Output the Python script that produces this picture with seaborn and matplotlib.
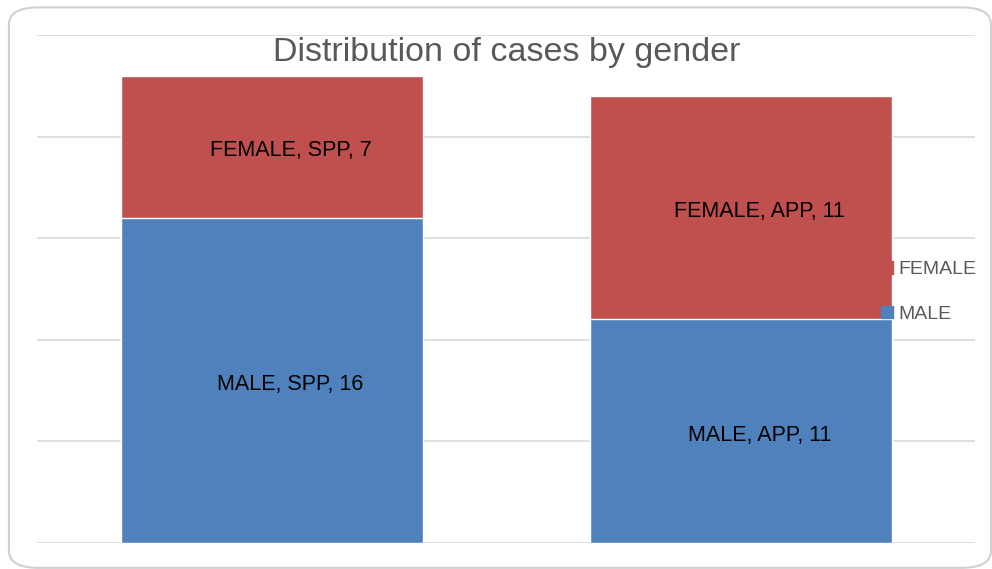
import matplotlib.pyplot as plt
import seaborn as sns
import pandas as pd
from matplotlib.patches import FancyBboxPatch, Patch

groups = ["SPP", "APP"]
male = [16, 11]
female = [7, 11]

BLUE = "#4F81BD"
RED = "#C0504D"
GRAY = "#595959"

sns.set_style("white")
plt.rcParams["font.family"] = ["Liberation Sans", "DejaVu Sans"]

df = pd.DataFrame({"group": groups, "male": male, "female": female})
df["total"] = df["male"] + df["female"]

fig = plt.figure(figsize=(9.92, 5.69), dpi=100)
ax = fig.add_axes([0.0373, 0.0457, 0.946, 0.8928])

sns.barplot(data=df, x="group", y="total", color=RED, width=0.644,
            saturation=1, ax=ax, zorder=2)
sns.barplot(data=df, x="group", y="male", color=BLUE, width=0.644,
            saturation=1, ax=ax, zorder=3)

ax.set_xlim(-0.5, 1.5)
ax.set_ylim(0, 25)
ax.set_yticks(range(0, 26, 5))
ax.yaxis.grid(True, color="#D9D9D9", linewidth=1.2, zorder=0)
ax.set_axisbelow(True)
for s in ax.spines.values():
    s.set_visible(False)
ax.set_xticks([])
ax.tick_params(left=False, labelleft=False)
ax.set_xlabel("")
ax.set_ylabel("")

# data labels sit a touch right of and below the segment centre
for i, g in enumerate(groups):
    ax.text(i + 0.04, male[i] / 2 - 0.2, f"MALE, {g}, {male[i]}",
            ha="center", va="center", fontsize=15.5, color="black", zorder=5)
    ax.text(i + 0.04, male[i] + female[i] / 2 - 0.2,
            f"FEMALE, {g}, {female[i]}",
            ha="center", va="center", fontsize=15.5, color="black", zorder=5)

fig.text(0.511, 0.907, "Distribution of cases by gender", ha="center",
         va="center", fontsize=24.5, color=GRAY)

handles = [Patch(color=RED, label="FEMALE"), Patch(color=BLUE, label="MALE")]
fig.legend(handles=handles, loc="center left", bbox_to_anchor=(0.888, 0.487),
           frameon=False, fontsize=14, labelcolor=GRAY, handlelength=0.6,
           handleheight=0.6, handletextpad=0.3, labelspacing=1.4,
           borderaxespad=0, borderpad=0)

frame = FancyBboxPatch((0.009, 0.002), 0.99, 0.985,
                       boxstyle="round,pad=0,rounding_size=0.03",
                       transform=fig.transFigure, fill=False,
                       edgecolor="#D0D0D0", linewidth=1.5, zorder=10)
fig.patches.append(frame)

fig.savefig("out.png", dpi=100)
